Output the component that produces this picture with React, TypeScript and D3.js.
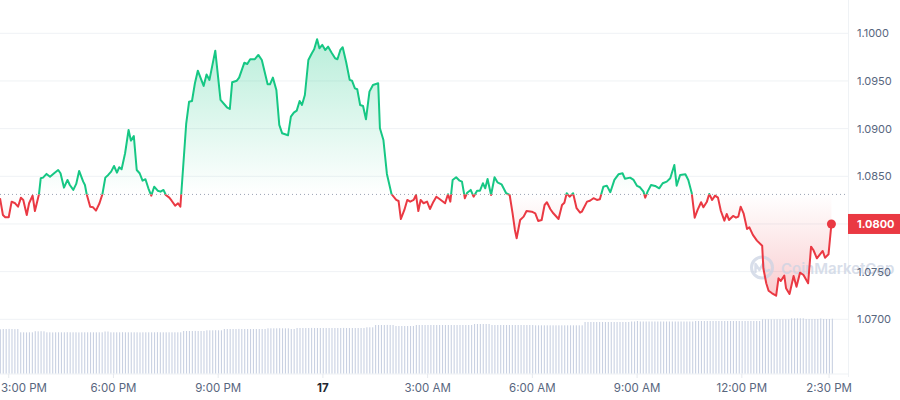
import React from 'react';
import * as d3 from 'd3';

// Start of the series: 16th, 2:45 PM
const START = new Date(2024, 3, 16, 14, 45, 0);

// minutes after START for each price point
const minutes = [
  0, 5, 9, 15, 20, 26, 31, 36, 40, 46,
  50, 56, 60, 67, 70, 74, 80, 86, 93, 100,
  104, 110, 116, 120, 126, 131, 136, 143, 146, 149,
  155, 160, 165, 171, 176, 181, 186, 191, 196, 201,
  205, 209, 215, 221, 225, 230, 235, 240, 245, 250,
  255, 260, 265, 271, 276, 281, 285, 291, 295, 301, 306, 310,
  320, 325, 330, 335, 340, 350, 355, 360, 370, 379,
  390, 395, 399, 407, 411, 420, 425, 430, 438, 444,
  450, 460, 464, 469, 475, 480, 485, 495, 500, 505,
  510, 515, 519, 524, 530, 536, 540, 545, 549, 554,
  559, 564, 570, 576, 580, 585, 589, 595, 601, 605,
  610, 614, 619, 624, 629, 635, 641, 650, 653, 659,
  665, 673, 681, 685, 689, 695, 700, 705, 711, 715,
  719, 723, 728, 734, 739, 745, 750, 756, 765, 770,
  774, 778, 784, 790, 794, 799, 803, 809, 814, 820,
  825, 830, 834, 838, 844, 850, 855, 862, 870, 876,
  881, 885, 888, 894, 900, 905, 914, 920, 925, 931,
  936, 940, 946, 951, 960, 966, 970, 974, 979, 985,
  991, 997, 1000, 1009, 1014, 1020, 1026, 1031, 1037, 1043,
  1049, 1056, 1063, 1070, 1074, 1083, 1089, 1095, 1100, 1106,
  1109, 1113, 1119, 1126, 1133, 1139, 1146, 1152, 1159, 1163,
  1169, 1178, 1183, 1189, 1194, 1199, 1205, 1209, 1215, 1219,
  1224, 1229, 1234, 1239, 1245, 1249, 1253, 1260, 1265, 1269,
  1273, 1278, 1284, 1288, 1294, 1301, 1310, 1312, 1317, 1321,
  1327, 1334, 1338, 1342, 1348, 1351, 1357, 1364, 1369, 1375,
  1381, 1389, 1394, 1398, 1404, 1414, 1418, 1424, 1429,
];

const prices = [
  1.0827, 1.08094, 1.0807, 1.0807, 1.08234, 1.08217, 1.08181, 1.08276, 1.08252, 1.08094,
  1.08217, 1.08297, 1.08136, 1.08312, 1.08479, 1.08486, 1.08525, 1.08496, 1.08532, 1.08566,
  1.08532, 1.08381, 1.08462, 1.08409, 1.08357, 1.0842, 1.08556, 1.08444, 1.08409, 1.08312,
  1.08181, 1.08175, 1.0814, 1.08217, 1.08312, 1.08486, 1.08514, 1.08549, 1.08608, 1.08538,
  1.08595, 1.08574, 1.08742, 1.08986, 1.08874, 1.08923, 1.08566, 1.08532, 1.08454, 1.08469,
  1.08374, 1.08297, 1.08391, 1.08349, 1.08339, 1.08357, 1.08304, 1.08276, 1.08244, 1.08192, 1.08217, 1.08181,
  1.09049, 1.09283, 1.0929, 1.09476, 1.09608, 1.09448, 1.09568, 1.09511, 1.09818, 1.09301,
  1.09224, 1.09206, 1.09486, 1.09503, 1.09535, 1.09692, 1.09678, 1.09728, 1.09728, 1.09773,
  1.0972, 1.09465, 1.09465, 1.09535, 1.09406, 1.09039, 1.08951, 1.0893, 1.09126, 1.09168,
  1.09189, 1.0929, 1.09248, 1.09353, 1.0972, 1.09791, 1.09833, 1.09938, 1.09843, 1.09878,
  1.09825, 1.0986, 1.09797, 1.09738, 1.09728, 1.09825, 1.09854, 1.09696, 1.09511, 1.09503,
  1.09423, 1.09413, 1.09248, 1.09238, 1.09098, 1.09388, 1.09458, 1.09476, 1.09004, 1.08881,
  1.08525, 1.08312, 1.08252, 1.08241, 1.08052, 1.08147, 1.08252, 1.08234, 1.08252, 1.08304,
  1.08136, 1.08252, 1.08217, 1.08234, 1.08157, 1.08234, 1.08286, 1.08259, 1.08217, 1.08312,
  1.08234, 1.08462, 1.0849, 1.08454, 1.08444, 1.0827, 1.08328, 1.08357, 1.08286, 1.08349,
  1.08349, 1.08427, 1.08374, 1.08472, 1.08304, 1.0849, 1.08437, 1.08416, 1.08322, 1.08304,
  1.08112, 1.07937, 1.0785, 1.08042, 1.08077, 1.08136, 1.08129, 1.08112, 1.08031, 1.08042,
  1.08199, 1.08228, 1.08154, 1.08112, 1.08052, 1.08199, 1.08223, 1.08322, 1.08286, 1.08322,
  1.08165, 1.08119, 1.08129, 1.08234, 1.08244, 1.0827, 1.08252, 1.08259, 1.08391, 1.08402,
  1.08333, 1.08462, 1.08521, 1.08532, 1.08475, 1.08486, 1.08462, 1.08399, 1.08385, 1.08339,
  1.08276, 1.08339, 1.08409, 1.08399, 1.08374, 1.08427, 1.08444, 1.08479, 1.08619, 1.08402,
  1.08514, 1.08521, 1.08462, 1.08322, 1.08066, 1.08147, 1.08228, 1.08175, 1.08234, 1.08315,
  1.08252, 1.08297, 1.08276, 1.08136, 1.08035, 1.08105, 1.08042, 1.08084, 1.08066, 1.08077,
  1.08181, 1.08112, 1.07948, 1.07965, 1.07885, 1.07825, 1.07772, 1.07535, 1.07378, 1.073,
  1.07273, 1.07248, 1.0743, 1.07402, 1.07458, 1.07326, 1.07266, 1.07455, 1.07342, 1.07489,
  1.07465, 1.07378, 1.07762, 1.07727, 1.0764, 1.07717, 1.07646, 1.07682, 1.08,
];

// volume bars, one every 5 minutes from START (arbitrary units)
const volumes = [
  4.42, 4.45, 4.45, 4.46, 4.45, 4.44, 4.45, 4.12, 4.12, 4.11,
  4.12, 4.12, 4.23, 4.22, 4.23, 4.22, 4.12, 4.12, 4.11, 4.12,
  4.12, 4.12, 4.12, 4.13, 4.12, 4.12, 4.12, 4.11, 4.12, 4.12,
  4.12, 4.12, 4.12, 4.12, 4.12, 4.12, 4.2, 4.2, 4.12, 4.12,
  4.12, 4.12, 4.13, 4.12, 4.12, 4.12, 4.12, 4.12, 4.11, 4.12,
  4.12, 4.12, 4.12, 4.12, 4.13, 4.12, 4.12, 4.12, 4.12, 4.12,
  4.12, 4.12, 4.12, 4.25, 4.25, 4.25, 4.25, 4.26, 4.25, 4.25,
  4.25, 4.32, 4.32, 4.32, 4.33, 4.32, 4.32, 4.45, 4.45, 4.45,
  4.45, 4.45, 4.46, 4.45, 4.45, 4.45, 4.45, 4.45, 4.45, 4.45,
  4.45, 4.45, 4.52, 4.52, 4.52, 4.52, 4.53, 4.52, 4.52, 4.52,
  4.45, 4.45, 4.55, 4.55, 4.55, 4.55, 4.55, 4.56, 4.55, 4.55,
  4.55, 4.55, 4.55, 4.55, 4.55, 4.55, 4.55, 4.55, 4.56, 4.55,
  4.55, 4.55, 4.55, 4.55, 4.55, 4.55, 4.62, 4.62, 4.62, 4.85,
  4.85, 4.85, 4.85, 4.86, 4.85, 4.85, 4.75, 4.75, 4.75, 4.75,
  4.75, 4.75, 4.75, 4.85, 4.85, 4.85, 4.85, 4.85, 4.85, 4.85,
  4.85, 4.85, 4.85, 4.85, 4.85, 4.85, 4.85, 4.85, 4.85, 4.85,
  4.85, 4.85, 4.85, 4.95, 4.95, 4.95, 4.95, 4.95, 4.95, 4.85,
  4.85, 4.85, 4.85, 4.85, 4.85, 4.85, 4.85, 4.85, 4.85, 4.85,
  4.85, 4.85, 4.85, 4.85, 4.82, 4.82, 4.82, 4.82, 4.82, 4.82,
  4.82, 4.82, 4.82, 4.82, 4.82, 4.82, 4.82, 4.82, 4.82, 4.82,
  4.82, 5.15, 5.15, 5.15, 5.15, 5.15, 5.15, 5.15, 5.15, 5.15,
  5.15, 5.15, 5.15, 5.15, 5.15, 5.15, 5.15, 5.2, 5.2, 5.25,
  5.2, 5.2, 5.2, 5.2, 5.2, 5.2, 5.2, 5.2, 5.2, 5.2,
  5.2, 5.2, 5.2, 5.2, 5.2, 5.2, 5.2, 5.2, 5.2, 5.25,
  5.25, 5.25, 5.25, 5.25, 5.25, 5.25, 5.25, 5.25, 5.25, 5.25,
  5.25, 5.25, 5.25, 5.25, 5.25, 5.25, 5.25, 5.25, 5.25, 5.25,
  5.25, 5.25, 5.42, 5.42, 5.42, 5.42, 5.42, 5.42, 5.42, 5.42,
  5.42, 5.42, 5.52, 5.52, 5.52, 5.52, 5.52, 5.45, 5.45, 5.45,
  5.45, 5.45, 5.5, 5.45, 5.45, 5.45, 5.48,
];

const yTicks = [1.07, 1.075, 1.08, 1.085, 1.09, 1.095, 1.1];
const xTickMinutes = [15, 195, 375, 555, 735, 915, 1095, 1275, 1425];
const xTickLabels = ['3:00 PM', '6:00 PM', '9:00 PM', '17', '3:00 AM', '6:00 AM', '9:00 AM', '12:00 PM', '2:30 PM'];
const baselinePrice = 1.0831;
const lastPrice = 1.08;

const GREEN = '#16c784';
const RED = '#ea3943';
const FONT = 'Inter, "Noto Sans", sans-serif';

export default function App() {
  const W = 900;
  const H = 400;
  const plotRight = 848;
  const plotBottom = 374;

  const x = d3.scaleTime()
    .domain([START, d3.timeMinute.offset(START, 1430)])
    .range([0, 832]);
  const y = d3.scaleLinear().domain([1.07, 1.1]).range([319.3, 33.3]);
  const vY = d3.scaleLinear().domain([0, 6]).range([373.5, 313.5]);

  const data = minutes.map((m, i) => ({ t: d3.timeMinute.offset(START, m), v: prices[i] }));
  const yBase = y(baselinePrice);

  const line = d3.line<{ t: Date; v: number }>().x(d => x(d.t)).y(d => y(d.v));
  const area = d3.area<{ t: Date; v: number }>().x(d => x(d.t)).y0(yBase).y1(d => y(d.v));

  const maxP = d3.max(prices) as number;
  const minP = d3.min(prices) as number;
  const last = data[data.length - 1];

  const linePath = line(data) || '';
  const areaPath = area(data) || '';

  return (
    <svg width={W} height={H} style={{ position: 'absolute', left: 0, top: 0, background: '#fff' }}>
      <defs>
        <clipPath id="above"><rect x={-10} y={0} width={plotRight + 10} height={yBase} /></clipPath>
        <clipPath id="below"><rect x={-10} y={yBase} width={plotRight + 10} height={plotBottom - yBase} /></clipPath>
        <linearGradient id="gGreen" gradientUnits="userSpaceOnUse" x1={0} x2={0} y1={y(maxP)} y2={yBase}>
          <stop offset="0" stopColor={GREEN} stopOpacity={0.3} />
          <stop offset="1" stopColor={GREEN} stopOpacity={0.0} />
        </linearGradient>
        <linearGradient id="gRed" gradientUnits="userSpaceOnUse" x1={0} x2={0} y1={yBase} y2={y(minP)}>
          <stop offset="0" stopColor={RED} stopOpacity={0.0} />
          <stop offset="1" stopColor={RED} stopOpacity={0.25} />
        </linearGradient>
      </defs>

      {/* grid */}
      {yTicks.map(t => (
        <line key={t} x1={0} x2={plotRight} y1={y(t)} y2={y(t)} stroke="#eff2f5" strokeWidth={1} />
      ))}
      <line x1={0} x2={plotRight} y1={plotBottom} y2={plotBottom} stroke="#eff2f5" />
      <line x1={plotRight + 0.5} x2={plotRight + 0.5} y1={0} y2={plotBottom + 3} stroke="#eff2f5" />

      {/* volume */}
      {volumes.map((v, i) => (
        <rect key={i} x={x(d3.timeMinute.offset(START, i * 5)) - 0.2} y={vY(v)} width={1.1}
          height={vY(0) - vY(v)} fill="#c9d1e2" />
      ))}

      {/* areas */}
      <path d={areaPath} fill="url(#gGreen)" clipPath="url(#above)" />
      <path d={areaPath} fill="url(#gRed)" clipPath="url(#below)" />

      {/* watermark */}
      <g opacity={0.75}>
        <circle cx={762} cy={267.5} r={10.5} fill="none" stroke="#cbd3e3" strokeWidth={3} />
        <path d="M755.5,272 L755.5,264 L759.5,270 L763.5,262.5 L764.5,270 Q766,272 769,270"
          fill="none" stroke="#cbd3e3" strokeWidth={2.4} strokeLinejoin="round" strokeLinecap="round" />
        <text x={781} y={273.5} fontFamily={FONT} fontSize={15} fontWeight={600} fill="#cbd3e3">CoinMarketCap</text>
      </g>

      {/* baseline */}
      <line x1={0} x2={846} y1={yBase} y2={yBase} stroke="#9aa2b4" strokeWidth={1} strokeDasharray="1 3" />

      {/* lines */}
      <path d={linePath} fill="none" stroke={GREEN} strokeWidth={2} strokeLinejoin="round" clipPath="url(#above)" />
      <path d={linePath} fill="none" stroke={RED} strokeWidth={2} strokeLinejoin="round" clipPath="url(#below)" />
      <circle cx={x(last.t)} cy={y(last.v)} r={4.5} fill={RED} />

      {/* y labels (the current-price tag covers its own tick) */}
      {yTicks.filter(t => Math.abs(t - lastPrice) > 1e-9).map(t => (
        <text key={t} x={857} y={y(t) + 4} fontFamily={FONT} fontSize={11} fill="#58667e">{t.toFixed(4)}</text>
      ))}
      <rect x={plotRight} y={y(lastPrice) - 10} width={W - plotRight} height={20} fill={RED} />
      <text x={857} y={y(lastPrice) + 4} fontFamily={FONT} fontSize={11} fontWeight={700} fill="#fff">{lastPrice.toFixed(4)}</text>

      {/* x ticks */}
      {xTickMinutes.map((m, i) => {
        const px = x(d3.timeMinute.offset(START, m));
        const first = i === 0;
        return (
          <g key={m}>
            <line x1={px} x2={px} y1={plotBottom} y2={plotBottom + 4} stroke="#e6e9ee" />
            <text x={first ? 1 : px} y={392} textAnchor={first ? 'start' : 'middle'} fontFamily={FONT}
              fontSize={11.5} fontWeight={xTickLabels[i] === '17' ? 700 : 400}
              fill={xTickLabels[i] === '17' ? '#222531' : '#58667e'}>{xTickLabels[i]}</text>
          </g>
        );
      })}
    </svg>
  );
}
